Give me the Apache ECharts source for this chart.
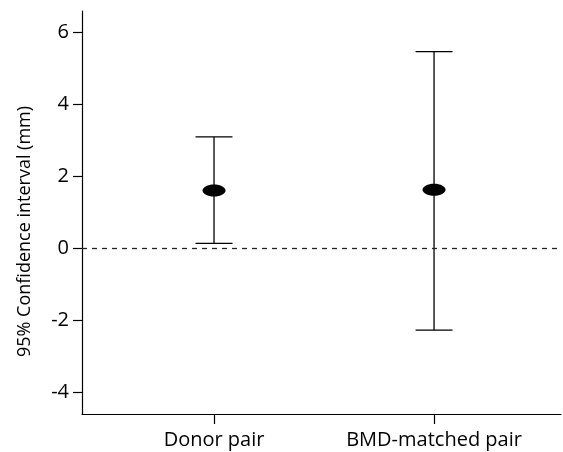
<!DOCTYPE html>
<html>
<head>
<meta charset="utf-8">
<script src="https://cdn.jsdelivr.net/npm/echarts@6/dist/echarts.min.js"></script>
<style>
  html, body { margin: 0; padding: 0; background: #fff; }
  #chart { width: 563px; height: 452px; }
</style>
</head>
<body>
<div id="chart"></div>
<script>
// groups on the x axis
const categories = ['Donor pair', 'BMD-matched pair']
const groupPos = [1, 2]

// 95% CI (mm)
const means = [1.61, 1.63]
const lower = [0.14, -2.27]
const upper = [3.10, 5.47]

const yTicks = [-4, -2, 0, 2, 4, 6]

const fontFamily = '"Open Sans", "DejaVu Sans", sans-serif'

const chart = echarts.init(document.getElementById('chart'))

// error bar: stem + caps + filled ellipse at the mean
const renderErrorBar = (params, api) => {
  const x = api.value(0)
  const top = api.coord([x, api.value(2)])
  const bot = api.coord([x, api.value(1)])
  const mid = api.coord([x, api.value(3)])
  const capHalf = 18.5
  const line = { stroke: '#000', lineWidth: 1.3 }
  return {
    type: 'group',
    children: [
      { type: 'line', shape: { x1: top[0], y1: top[1], x2: bot[0], y2: bot[1] }, style: line },
      { type: 'line', shape: { x1: top[0] - capHalf, y1: top[1], x2: top[0] + capHalf, y2: top[1] }, style: line },
      { type: 'line', shape: { x1: bot[0] - capHalf, y1: bot[1], x2: bot[0] + capHalf, y2: bot[1] }, style: line },
      { type: 'ellipse', shape: { cx: mid[0], cy: mid[1], rx: 11.5, ry: 6 }, style: { fill: '#000' } }
    ]
  }
}

const option = {
  animation: false,
  backgroundColor: '#fff',
  grid: { left: 82, right: 2, top: 11, bottom: 38 },
  xAxis: {
    type: 'value',
    min: 0.4,
    max: 2.577,
    splitLine: { show: false },
    axisLine: { show: true, onZero: false, lineStyle: { color: '#000', width: 1.2 } },
    axisTick: { show: true, length: 10, customValues: groupPos, lineStyle: { color: '#000', width: 1.2 } },
    axisLabel: {
      customValues: groupPos,
      margin: 16,
      color: '#000',
      fontSize: 20,
      fontFamily,
      formatter: (v) => categories[groupPos.indexOf(v)] || ''
    }
  },
  yAxis: {
    type: 'value',
    min: -4.6,
    max: 6.6,
    name: '95% Confidence interval (mm)',
    nameLocation: 'middle',
    nameGap: 48,
    nameTextStyle: { color: '#000', fontSize: 18, fontFamily, padding: [0, 38, 0, 0] },
    splitLine: { show: false },
    axisLine: { show: true, lineStyle: { color: '#000', width: 1.2 } },
    axisTick: { show: true, length: 9, customValues: yTicks, lineStyle: { color: '#000', width: 1.2 } },
    axisLabel: {
      customValues: yTicks,
      margin: 13,
      color: '#000',
      fontSize: 20,
      fontFamily
    }
  },
  series: [
    {
      type: 'custom',
      renderItem: renderErrorBar,
      encode: { x: 0, y: [1, 2, 3] },
      data: groupPos.map((x, i) => [x, lower[i], upper[i], means[i]]),
      z: 3,
      markLine: {
        silent: true,
        symbol: 'none',
        label: { show: false },
        lineStyle: { color: '#222', width: 1.3, type: [5, 5] },
        data: [{ yAxis: 0 }]
      }
    }
  ]
}

chart.setOption(option)
</script>
</body>
</html>
